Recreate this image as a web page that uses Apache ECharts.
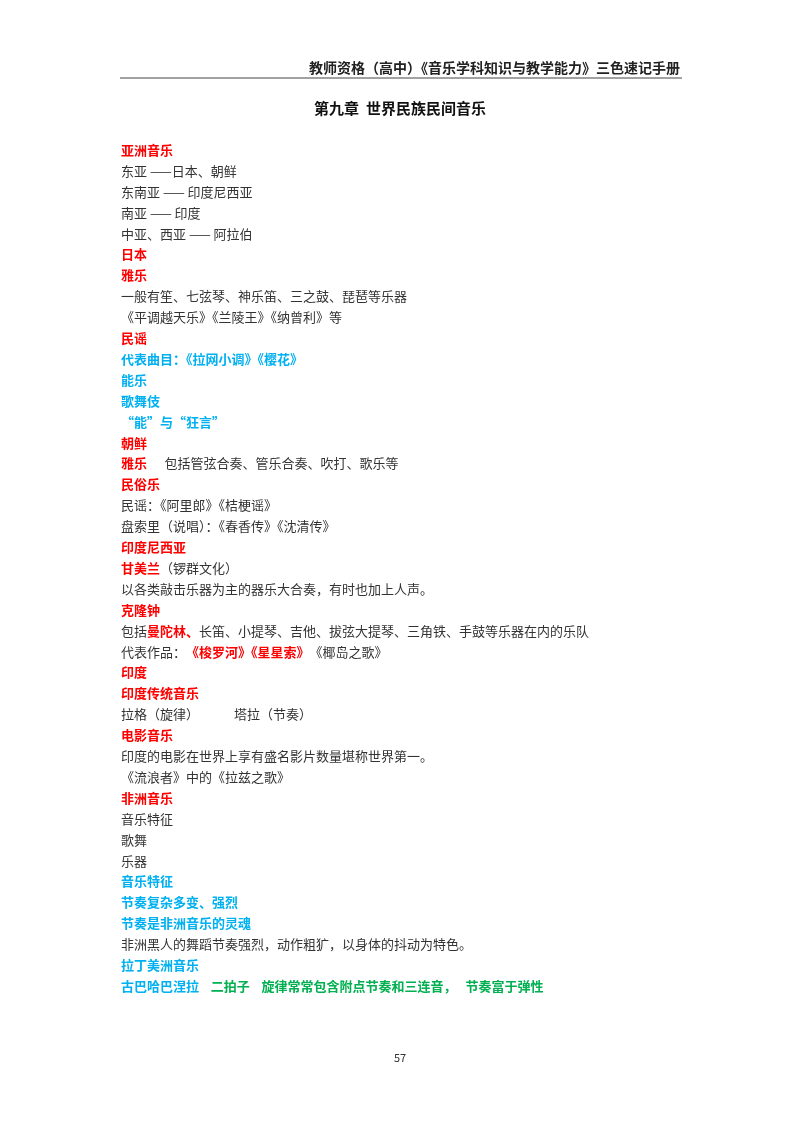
<!DOCTYPE html>
<html>
<head>
<meta charset="utf-8">
<script src="https://cdn.jsdelivr.net/npm/echarts@6/dist/echarts.min.js"></script>
<style>html,body{margin:0;background:#fff}#main{width:800px;height:1132px}</style>
</head>
<body>
<div id="main"></div>
<script>
// 页眉、标题、页码
const headerText = '教师资格（高中）《音乐学科知识与教学能力》三色速记手册';
const chapterTitle = '第九章  世界民族民间音乐';
const pageNumber = '57';

// 每行由若干段组成：[样式, 文字]；r=红 b=蓝 g=绿 n=正文
const bodyLines = [
  [['r', '亚洲音乐']],
  [['n', '东亚 ——日本、朝鲜']],
  [['n', '东南亚 —— 印度尼西亚']],
  [['n', '南亚 —— 印度']],
  [['n', '中亚、西亚 —— 阿拉伯']],
  [['r', '日本']],
  [['r', '雅乐']],
  [['n', '一般有笙、七弦琴、神乐笛、三之鼓、琵琶等乐器']],
  [['n', '《平调越天乐》《兰陵王》《纳曾利》等']],
  [['r', '民谣']],
  [['b', '代表曲目：《拉网小调》《樱花》']],
  [['b', '能乐']],
  [['b', '歌舞伎']],
  [['b', '“能”与“狂言”']],
  [['r', '朝鲜']],
  [['r', '雅乐'], ['n', '      包括管弦合奏、管乐合奏、吹打、歌乐等']],
  [['r', '民俗乐']],
  [['n', '民谣：《阿里郎》《桔梗谣》']],
  [['n', '盘索里（说唱）：《春香传》《沈清传》']],
  [['r', '印度尼西亚']],
  [['r', '甘美兰'], ['n', '（锣群文化）']],
  [['n', '以各类敲击乐器为主的器乐大合奏，有时也加上人声。']],
  [['r', '克隆钟']],
  [['n', '包括'], ['r', '曼陀林、'], ['n', '长笛、小提琴、吉他、拔弦大提琴、三角铁、手鼓等乐器在内的乐队']],
  [['n', '代表作品：'], ['r', '《梭罗河》《星星索》'], ['n', '《椰岛之歌》']],
  [['r', '印度']],
  [['r', '印度传统音乐']],
  [['n', '拉格（旋律）            塔拉（节奏）']],
  [['r', '电影音乐']],
  [['n', '印度的电影在世界上享有盛名影片数量堪称世界第一。']],
  [['n', '《流浪者》中的《拉兹之歌》']],
  [['r', '非洲音乐']],
  [['n', '音乐特征']],
  [['n', '歌舞']],
  [['n', '乐器']],
  [['b', '音乐特征']],
  [['b', '节奏复杂多变、强烈']],
  [['b', '节奏是非洲音乐的灵魂']],
  [['n', '非洲黑人的舞蹈节奏强烈，动作粗犷，以身体的抖动为特色。']],
  [['b', '拉丁美洲音乐']],
  [['b', '古巴哈巴涅拉'], ['g', '    二拍子    旋律常常包含附点节奏和三连音，   节奏富于弹性']]
];

const FONT = '"Noto Sans CJK SC", sans-serif';
const rich = {
  r: { fill: '#FF0000', fontWeight: 'bold', fontSize: 13, fontFamily: FONT },
  b: { fill: '#00B0F0', fontWeight: 'bold', fontSize: 13, fontFamily: FONT },
  g: { fill: '#00B050', fontWeight: 'bold', fontSize: 13, fontFamily: FONT },
  n: { fill: '#333333', fontSize: 13, fontFamily: FONT }
};

const top0 = 150, step = 20.9;
const graphics = bodyLines.map((segs, i) => ({
  type: 'text',
  x: 121,
  y: top0 + i * step,
  style: {
    text: segs.map(s => '{' + s[0] + '|' + s[1] + '}').join(''),
    rich: rich,
    verticalAlign: 'middle'
  }
}));

graphics.push(
  { type: 'text', x: 680, y: 68, style: { text: headerText, align: 'right', verticalAlign: 'middle', fill: '#222', fontSize: 14, fontWeight: 'bold', fontFamily: FONT } },
  { type: 'line', shape: { x1: 120, y1: 78, x2: 682, y2: 78 }, style: { stroke: '#444', lineWidth: 1 } },
  { type: 'text', x: 400, y: 108, style: { text: chapterTitle, align: 'center', verticalAlign: 'middle', fill: '#111', fontSize: 15, fontWeight: 'bold', fontFamily: FONT } },
  { type: 'text', x: 400, y: 1058, style: { text: pageNumber, align: 'center', verticalAlign: 'middle', fill: '#333', fontSize: 11, fontFamily: FONT } }
);

const chart = echarts.init(document.getElementById('main'));
chart.setOption({ backgroundColor: '#fff', graphic: graphics });
</script>
</body>
</html>
